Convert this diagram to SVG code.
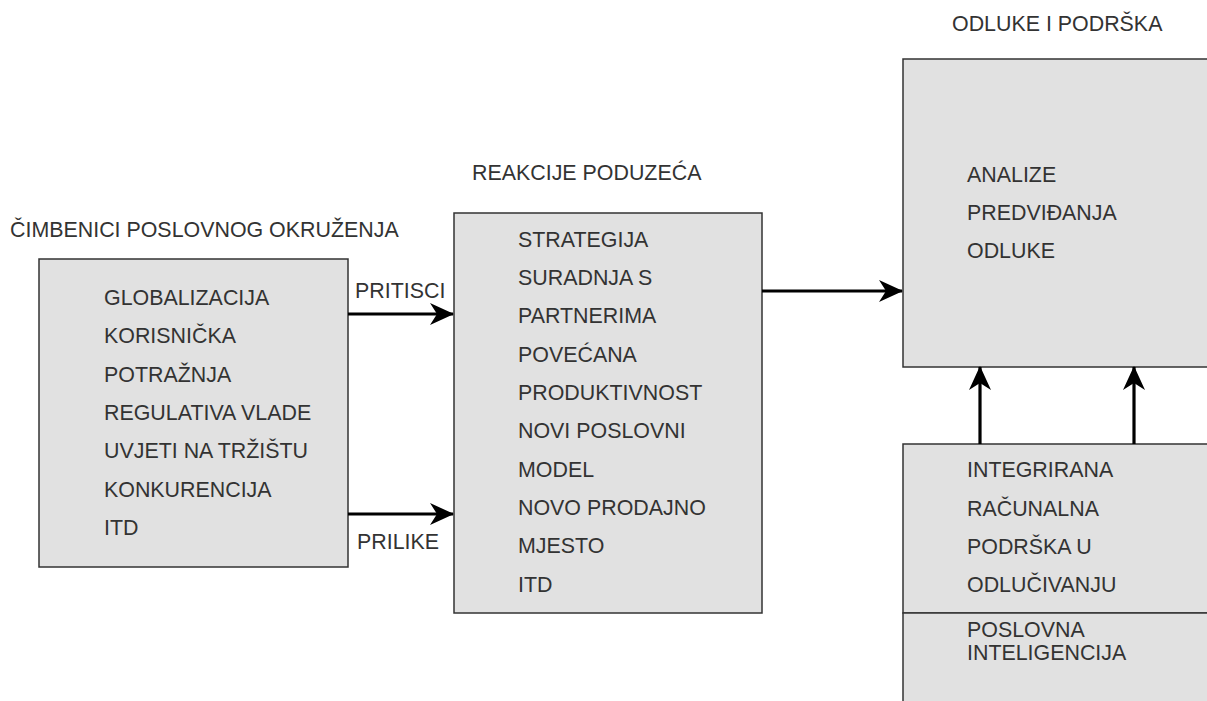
<svg xmlns="http://www.w3.org/2000/svg" width="1207" height="701" viewBox="0 0 1207 701">
<defs>
<style>
.box{fill:#e1e1e1;stroke:#333333;stroke-width:1.5}
.t{font-family:"Liberation Sans",Arial,sans-serif;font-size:21.4px;fill:#333333}
.edge{stroke:#000000;stroke-width:3.2;fill:none}
</style>
<marker id="arr" viewBox="0 0 24 22" refX="23" refY="11" markerWidth="24" markerHeight="22" markerUnits="userSpaceOnUse" orient="auto">
<path d="M0,0 L24,11 L0,22 L7,11 Z" fill="#000000"/>
</marker>
</defs>
<rect width="1207" height="701" fill="#ffffff"/>

<g id="okruzenje">
<text class="t" x="10" y="237">ČIMBENICI POSLOVNOG OKRUŽENJA</text>
<rect class="box" x="39" y="259" width="309" height="308"/>
<text class="t" x="104" y="305">GLOBALIZACIJA</text>
<text class="t" x="104" y="343">KORISNIČKA</text>
<text class="t" x="104" y="382">POTRAŽNJA</text>
<text class="t" x="104" y="420">REGULATIVA VLADE</text>
<text class="t" x="104" y="458">UVJETI NA TRŽIŠTU</text>
<text class="t" x="104" y="497">KONKURENCIJA</text>
<text class="t" x="104" y="535">ITD</text>
</g>

<g id="reakcije">
<text class="t" x="472" y="180">REAKCIJE PODUZEĆA</text>
<rect class="box" x="454" y="213" width="308" height="400"/>
<text class="t" x="518" y="247">STRATEGIJA</text>
<text class="t" x="518" y="285">SURADNJA S</text>
<text class="t" x="518" y="323">PARTNERIMA</text>
<text class="t" x="518" y="362">POVEĆANA</text>
<text class="t" x="518" y="400">PRODUKTIVNOST</text>
<text class="t" x="518" y="438">NOVI POSLOVNI</text>
<text class="t" x="518" y="477">MODEL</text>
<text class="t" x="518" y="515">NOVO PRODAJNO</text>
<text class="t" x="518" y="553">MJESTO</text>
<text class="t" x="518" y="592">ITD</text>
</g>

<g id="odluke">
<text class="t" x="952" y="31">ODLUKE I PODRŠKA</text>
<rect class="box" x="903" y="59" width="330" height="308"/>
<text class="t" x="967" y="182">ANALIZE</text>
<text class="t" x="967" y="220">PREDVIĐANJA</text>
<text class="t" x="967" y="258">ODLUKE</text>
</g>

<g id="podrska">
<rect class="box" x="903" y="444" width="330" height="169"/>
<text class="t" x="967" y="477">INTEGRIRANA</text>
<text class="t" x="967" y="516">RAČUNALNA</text>
<text class="t" x="967" y="554">PODRŠKA U</text>
<text class="t" x="967" y="592">ODLUČIVANJU</text>
</g>

<g id="inteligencija">
<rect class="box" x="903" y="613" width="330" height="120"/>
<text class="t" x="967" y="637">POSLOVNA</text>
<text class="t" x="967" y="660">INTELIGENCIJA</text>
</g>

<g id="connectors">
<line class="edge" x1="348" y1="314" x2="453" y2="314" marker-end="url(#arr)"/>
<text class="t" x="355" y="298">PRITISCI</text>
<line class="edge" x1="348" y1="514" x2="453" y2="514" marker-end="url(#arr)"/>
<text class="t" x="357" y="549">PRILIKE</text>
<line class="edge" x1="762" y1="291" x2="902" y2="291" marker-end="url(#arr)"/>
<line class="edge" x1="980" y1="444" x2="980" y2="367" marker-end="url(#arr)"/>
<line class="edge" x1="1134" y1="444" x2="1134" y2="367" marker-end="url(#arr)"/>
</g>
</svg>
